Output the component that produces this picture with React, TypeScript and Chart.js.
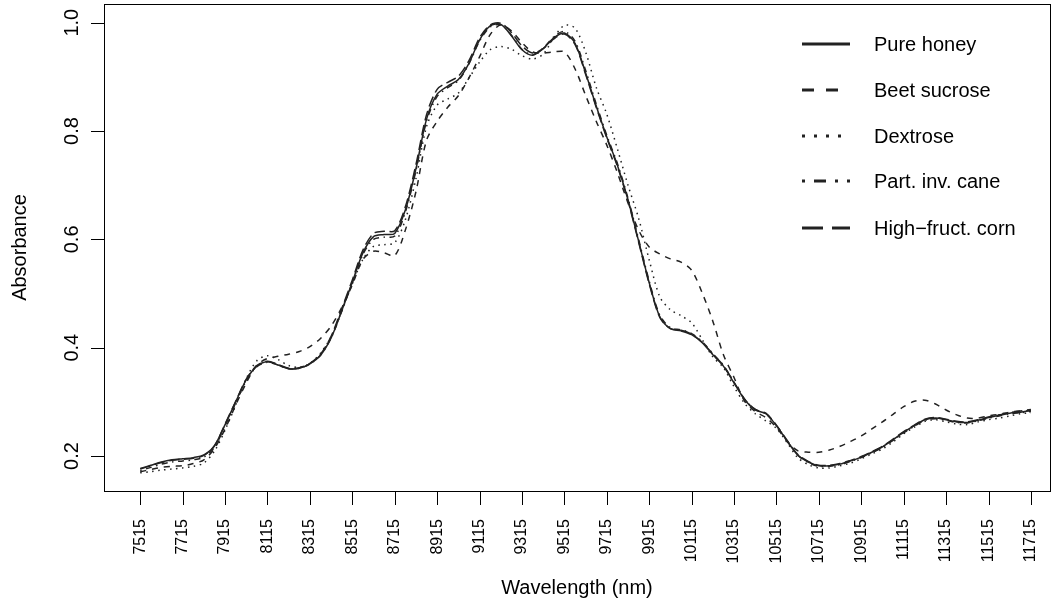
import React, { useEffect, useRef } from "react";
import { Chart, registerables } from "chart.js";

Chart.register(...registerables);

const wavelengths = [
  7515, 7565, 7615, 7665, 7715, 7765, 7815, 7865, 7915, 7965,
  8015, 8065, 8115, 8165, 8215, 8265, 8315, 8365, 8415, 8465,
  8515, 8565, 8615, 8665, 8715, 8765, 8815, 8865, 8915, 8965,
  9015, 9065, 9115, 9165, 9215, 9265, 9315, 9365, 9415, 9465,
  9515, 9565, 9615, 9665, 9715, 9765, 9815, 9865, 9915, 9965,
  10015, 10065, 10115, 10165, 10215, 10265, 10315, 10365, 10415, 10465,
  10515, 10565, 10615, 10665, 10715, 10765, 10815, 10865, 10915, 10965,
  11015, 11065, 11115, 11165, 11215, 11265, 11315, 11365, 11415, 11465,
  11515, 11565, 11615, 11665, 11715,
];

const pureHoney = [
  0.177, 0.183, 0.189, 0.193, 0.195, 0.197, 0.202, 0.219, 0.258, 0.300,
  0.341, 0.366, 0.374, 0.368, 0.361, 0.362, 0.370, 0.386, 0.418, 0.468,
  0.521, 0.575, 0.605, 0.609, 0.611, 0.654, 0.730, 0.822, 0.868, 0.883,
  0.895, 0.925, 0.968, 0.994, 0.997, 0.976, 0.950, 0.940, 0.952, 0.972,
  0.981, 0.962, 0.907, 0.846, 0.789, 0.737, 0.673, 0.597, 0.520, 0.457,
  0.435, 0.431, 0.424, 0.409, 0.387, 0.366, 0.335, 0.304, 0.285, 0.278,
  0.256, 0.228, 0.202, 0.189, 0.182, 0.182, 0.185, 0.191, 0.198, 0.207,
  0.217, 0.230, 0.244, 0.256, 0.267, 0.270, 0.267, 0.263, 0.262, 0.266,
  0.271, 0.275, 0.279, 0.281, 0.284,
];

const beetSucrose = [
  0.171, 0.175, 0.179, 0.181, 0.182, 0.186, 0.193, 0.214, 0.250, 0.294,
  0.335, 0.368, 0.380, 0.384, 0.388, 0.393, 0.402, 0.417, 0.440, 0.474,
  0.516, 0.563, 0.578, 0.575, 0.570, 0.617, 0.688, 0.783, 0.818, 0.844,
  0.865, 0.898, 0.937, 0.978, 0.996, 0.985, 0.963, 0.946, 0.944, 0.946,
  0.946, 0.915, 0.866, 0.818, 0.774, 0.723, 0.667, 0.617, 0.586, 0.573,
  0.564, 0.558, 0.543, 0.501, 0.449, 0.387, 0.345, 0.301, 0.282, 0.271,
  0.253, 0.227, 0.210, 0.207, 0.207, 0.211, 0.218, 0.227, 0.237, 0.250,
  0.263, 0.277, 0.291, 0.301, 0.303, 0.296, 0.285, 0.276, 0.270, 0.270,
  0.274, 0.277, 0.281, 0.283, 0.284,
];

const dextrose = [
  0.169, 0.171, 0.174, 0.176, 0.178, 0.181, 0.187, 0.209, 0.248, 0.294,
  0.343, 0.376, 0.385, 0.378, 0.367, 0.364, 0.371, 0.390, 0.420, 0.468,
  0.518, 0.563, 0.587, 0.590, 0.594, 0.636, 0.712, 0.808, 0.848, 0.859,
  0.870, 0.898, 0.927, 0.950, 0.956, 0.951, 0.939, 0.933, 0.942, 0.972,
  0.995, 0.990, 0.946, 0.881, 0.831, 0.767, 0.700, 0.639, 0.562, 0.494,
  0.470, 0.459, 0.446, 0.415, 0.383, 0.363, 0.328, 0.297, 0.278, 0.265,
  0.251, 0.225, 0.197, 0.184, 0.178, 0.178, 0.182, 0.187, 0.195, 0.204,
  0.213, 0.226, 0.241, 0.253, 0.264, 0.267, 0.263, 0.259, 0.258, 0.263,
  0.267, 0.270, 0.274, 0.278, 0.280,
];

const partInvCane = [
  0.173, 0.179, 0.185, 0.189, 0.191, 0.193, 0.198, 0.216, 0.256, 0.298,
  0.339, 0.365, 0.373, 0.368, 0.361, 0.362, 0.370, 0.386, 0.418, 0.467,
  0.520, 0.572, 0.600, 0.604, 0.606, 0.650, 0.727, 0.818, 0.864, 0.880,
  0.893, 0.924, 0.966, 0.992, 0.996, 0.977, 0.951, 0.941, 0.953, 0.974,
  0.984, 0.966, 0.912, 0.850, 0.792, 0.740, 0.676, 0.600, 0.523, 0.460,
  0.437, 0.433, 0.426, 0.411, 0.389, 0.367, 0.336, 0.305, 0.286, 0.278,
  0.256, 0.228, 0.202, 0.188, 0.181, 0.181, 0.184, 0.190, 0.197, 0.206,
  0.216, 0.229, 0.243, 0.255, 0.266, 0.269, 0.266, 0.262, 0.261, 0.265,
  0.270, 0.274, 0.278, 0.280, 0.282,
];

const highFructCorn = [
  0.176, 0.182, 0.188, 0.192, 0.194, 0.196, 0.201, 0.219, 0.259, 0.301,
  0.342, 0.367, 0.375, 0.369, 0.362, 0.363, 0.371, 0.388, 0.421, 0.472,
  0.525, 0.580, 0.611, 0.615, 0.616, 0.660, 0.738, 0.830, 0.877, 0.890,
  0.901, 0.930, 0.972, 0.996, 0.999, 0.982, 0.957, 0.944, 0.952, 0.970,
  0.979, 0.960, 0.905, 0.844, 0.787, 0.735, 0.671, 0.595, 0.518, 0.456,
  0.435, 0.432, 0.425, 0.410, 0.388, 0.367, 0.336, 0.305, 0.286, 0.279,
  0.257, 0.229, 0.203, 0.190, 0.183, 0.183, 0.186, 0.192, 0.199, 0.208,
  0.218, 0.231, 0.245, 0.257, 0.268, 0.271, 0.268, 0.264, 0.263, 0.267,
  0.272, 0.276, 0.280, 0.283, 0.286,
];

const seriesNames = ["Pure honey", "Beet sucrose", "Dextrose", "Part. inv. cane", "High\u2212fruct. corn"];

const xTicks = [
  7515, 7715, 7915, 8115, 8315, 8515, 8715, 8915, 9115, 9315, 9515,
  9715, 9915, 10115, 10315, 10515, 10715, 10915, 11115, 11315, 11515, 11715,
];
const yTicks = [0.2, 0.4, 0.6, 0.8, 1.0];

const FONT = "'Liberation Sans', Arial, Helvetica, sans-serif";
const LINE_COLOR = "#222222";
// R lty patterns (lwd 1 -> 1.5px units)
const plotDashes: number[][] = [[], [6, 6], [1.5, 4.5], [1.5, 4.5, 6, 4.5], [10.5, 4.5]];
const legendDashes: number[][] = [[], [12, 12], [3, 9], [3, 9, 12, 9], [21, 9]];

const decorPlugin = {
  id: "decor",
  afterDraw(chart: any) {
    const ctx = chart.ctx;
    const area = chart.chartArea;
    const xs = chart.scales.x;
    const ys = chart.scales.y;
    ctx.save();
    ctx.strokeStyle = "#000";
    ctx.fillStyle = "#000";
    ctx.lineWidth = 1;
    ctx.setLineDash([]);
    // box
    ctx.strokeRect(area.left + 0.5, area.top + 0.5, area.right - area.left, area.bottom - area.top);
    // ticks
    ctx.beginPath();
    for (const t of xTicks) {
      const x = Math.round(xs.getPixelForValue(t)) + 0.5;
      ctx.moveTo(x, area.bottom);
      ctx.lineTo(x, area.bottom + 14);
    }
    for (const t of yTicks) {
      const y = Math.round(ys.getPixelForValue(t)) + 0.5;
      ctx.moveTo(area.left, y);
      ctx.lineTo(area.left - 13, y);
    }
    ctx.stroke();
    // y tick labels
    ctx.font = `20px ${FONT}`;
    for (const t of yTicks) {
      const y = ys.getPixelForValue(t);
      ctx.save();
      ctx.translate(area.left - 26, y);
      ctx.rotate(-Math.PI / 2);
      ctx.textAlign = "center";
      ctx.textBaseline = "alphabetic";
      ctx.fillText(t.toFixed(1), 0, 0);
      ctx.restore();
    }
    // x tick labels
    ctx.font = `16px ${FONT}`;
    for (const t of xTicks) {
      const x = xs.getPixelForValue(t);
      ctx.save();
      ctx.translate(x, area.bottom + 28);
      ctx.rotate(-Math.PI / 2);
      ctx.textAlign = "right";
      ctx.textBaseline = "middle";
      ctx.fillText(String(t), 0, 0);
      ctx.restore();
    }
    // axis titles
    ctx.font = `20px ${FONT}`;
    ctx.textAlign = "center";
    ctx.textBaseline = "alphabetic";
    ctx.fillText("Wavelength (nm)", (area.left + area.right) / 2, 594);
    ctx.save();
    ctx.translate(area.left - 78, (area.top + area.bottom) / 2);
    ctx.rotate(-Math.PI / 2);
    ctx.fillText("Absorbance", 0, 0);
    ctx.restore();
    // legend
    const rows = [44, 90, 136, 181, 228];
    ctx.textAlign = "left";
    ctx.textBaseline = "middle";
    seriesNames.forEach((name, i) => {
      const y = rows[i];
      ctx.save();
      ctx.strokeStyle = LINE_COLOR;
      ctx.lineWidth = 3;
      ctx.lineCap = "butt";
      ctx.setLineDash(legendDashes[i]);
      ctx.beginPath();
      ctx.moveTo(802, y);
      ctx.lineTo(850, y);
      ctx.stroke();
      ctx.restore();
      ctx.fillStyle = "#000";
      ctx.fillText(name, 874, y + 1);
    });
    ctx.restore();
  },
};

export default function App() {
  const canvasRef = useRef<HTMLCanvasElement | null>(null);

  useEffect(() => {
    const canvas = canvasRef.current;
    if (!canvas) return;
    const all = [pureHoney, beetSucrose, dextrose, partInvCane, highFructCorn];
    const datasets = all.map((series, i) => ({
      label: seriesNames[i],
      data: wavelengths.map((w, j) => ({ x: w, y: series[j] })),
      borderColor: LINE_COLOR,
      borderWidth: 1.5,
      borderDash: plotDashes[i],
      borderCapStyle: "butt" as const,
      pointRadius: 0,
      tension: 0.3,
      fill: false,
    }));
    const chart = new Chart(canvas, {
      type: "line",
      data: { datasets },
      options: {
        animation: false,
        responsive: false,
        devicePixelRatio: 1,
        layout: { padding: { left: 0, top: 4, right: 12, bottom: 0 } },
        plugins: { legend: { display: false }, tooltip: { enabled: false } },
        scales: {
          x: {
            type: "linear",
            min: 7344,
            max: 11805,
            ticks: { display: false },
            grid: { display: false },
            border: { display: false },
            afterBuildTicks: (scale: any) => {
              scale.ticks = xTicks.map((v) => ({ value: v }));
            },
            afterFit: (scale: any) => {
              scale.height = 116;
            },
          },
          y: {
            type: "linear",
            min: 0.1354,
            max: 1.0345,
            ticks: { display: false },
            grid: { display: false },
            border: { display: false },
            afterBuildTicks: (scale: any) => {
              scale.ticks = yTicks.map((v) => ({ value: v }));
            },
            afterFit: (scale: any) => {
              scale.width = 104;
            },
          },
        },
      },
      plugins: [decorPlugin],
    });
    return () => chart.destroy();
  }, []);

  return (
    <div style={{ position: "fixed", left: 0, top: 0, width: 1062, height: 607, background: "#fff" }}>
      <canvas ref={canvasRef} width={1062} height={607} style={{ width: 1062, height: 607 }} />
    </div>
  );
}
